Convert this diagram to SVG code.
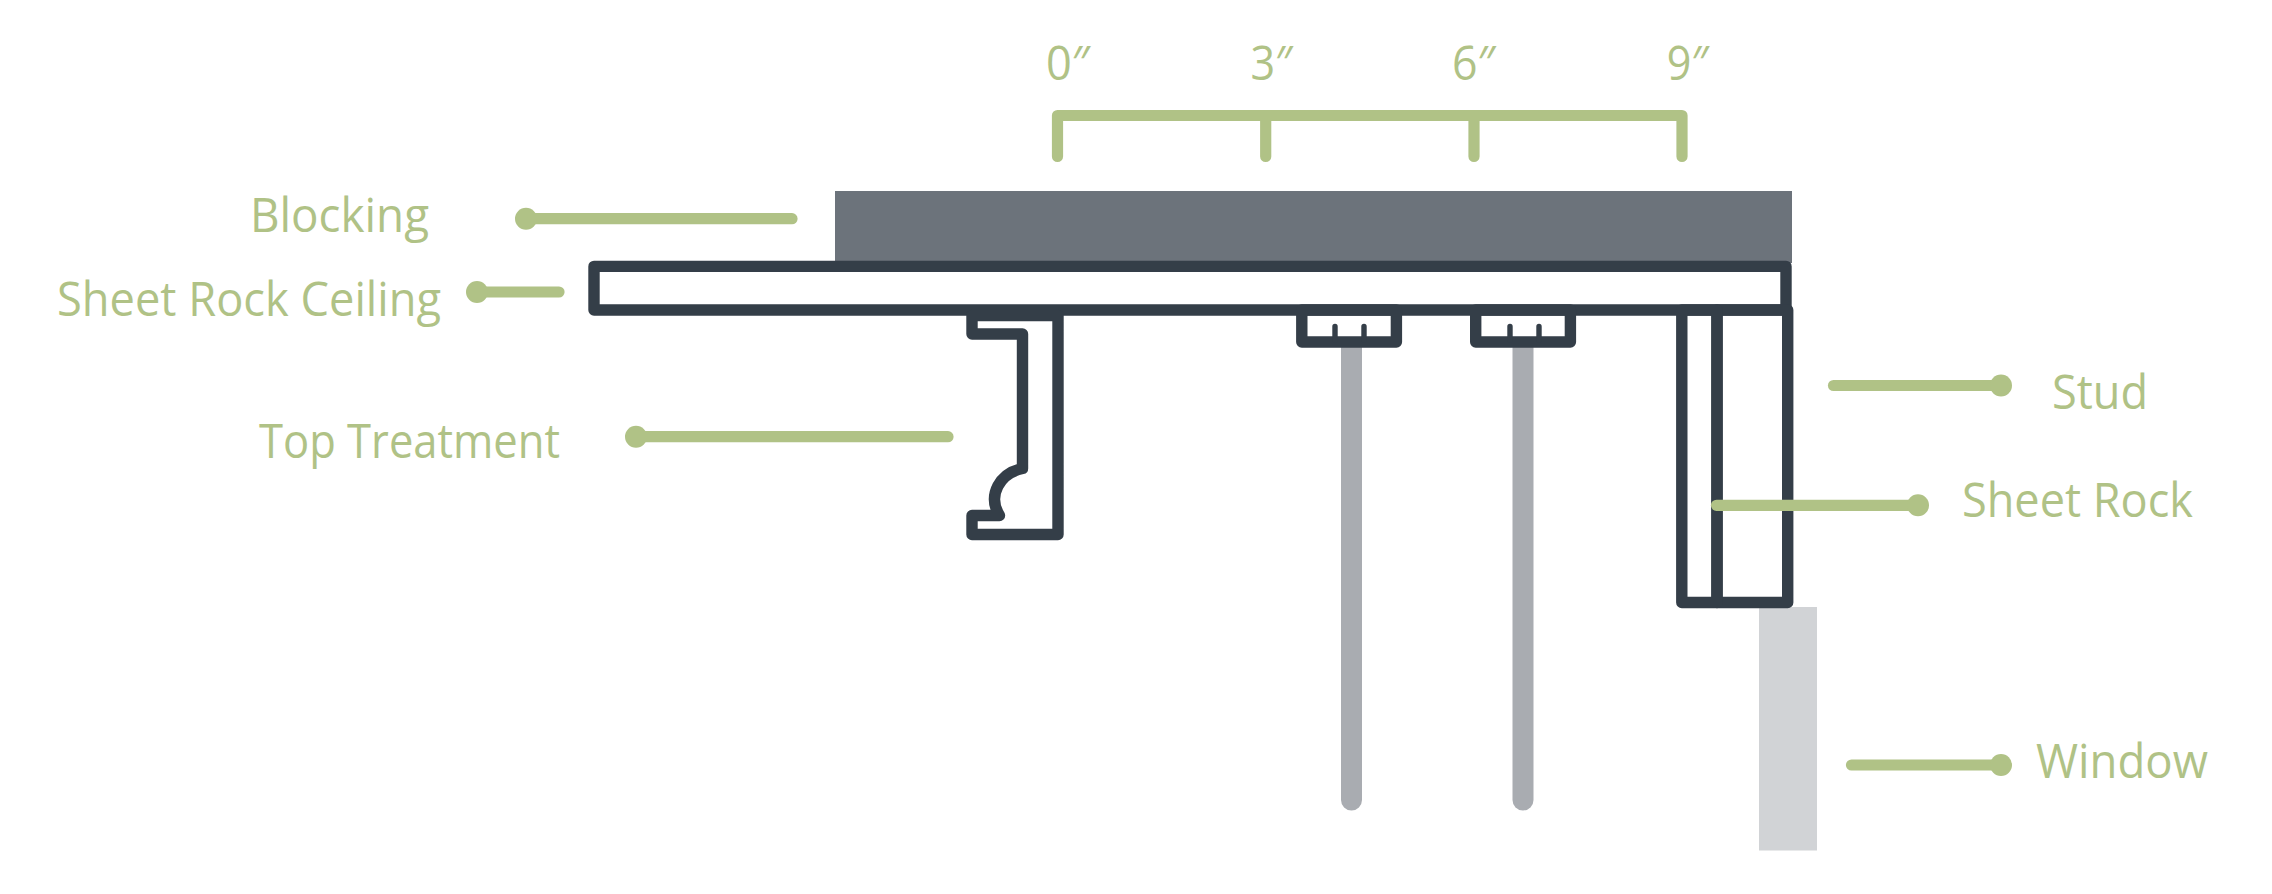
<svg xmlns="http://www.w3.org/2000/svg" width="2272" height="894" viewBox="0 0 2272 894">
<style>
.o{fill:none;stroke:#343e48;stroke-width:11.400;stroke-linejoin:round;stroke-linecap:round}
.t{fill:none;stroke:#343e48;stroke-width:5.400;stroke-linecap:round}
.g{fill:none;stroke:#b0c286;stroke-width:11.200;stroke-linecap:round;stroke-linejoin:round}
.d{fill:#b0c286}
text{font-family:"Open Sans","Noto Sans",sans-serif;font-size:48px;fill:#b0c286;font-weight:400}
</style>
<rect width="2272" height="894" fill="#fff"/>
<g id="blocking"><rect x="835" y="191" width="957" height="72" fill="#6c737b"/></g>
<g id="window"><rect x="1759" y="607" width="58" height="243.500" fill="#d1d3d6"/></g>
<g id="rods" fill="#a9acb1">
<path d="M1341 340H1362V800a10.500 10.500 0 0 1-21 0Z"/>
<path d="M1512.500 340H1533.500V800a10.500 10.500 0 0 1-21 0Z"/>
</g>
<g id="sheet-rock-ceiling"><rect class="o" x="594" y="266.400" width="1192" height="43.600"/></g>
<g id="top-treatment"><path class="o" d="M972 315.500H1058V534.500H972V515.500H999.500C987 495 1000 473 1022.500 468.500V334H972Z"/><rect x="972" y="309" width="86" height="8" fill="#343e48"/></g>
<g id="bracket-1"><rect class="o" x="1301.800" y="310" width="94.600" height="32"/><path class="t" d="M1335 326.500V340M1364 326.500V340"/></g>
<g id="bracket-2"><rect class="o" x="1475.700" y="310" width="94.700" height="32"/><path class="t" d="M1510 326.500V340M1539 326.500V340"/></g>
<g id="stud"><rect class="o" x="1717" y="310" width="70.700" height="292.500"/></g>
<g id="sheet-rock"><rect class="o" x="1681.800" y="310" width="35.200" height="292.500"/></g>
<g id="connectors">
<path class="g" d="M1057.500 156.500V115.500H1682V156.500M1265.700 115.500V156.500M1474 115.500V156.500"/>
<path class="g" d="M526 218.700H792"/><circle class="d" cx="526" cy="218.700" r="11"/>
<path class="g" d="M477 292H559"/><circle class="d" cx="477" cy="292" r="11"/>
<path class="g" d="M636 436.700H948"/><circle class="d" cx="636" cy="436.700" r="11"/>
<path class="g" d="M1833.500 385.500H2001"/><circle class="d" cx="2001" cy="385.500" r="11"/>
<path class="g" d="M1716.500 505.300H1918"/><circle class="d" cx="1918" cy="505.300" r="11"/>
<path class="g" d="M1851.500 765H2001"/><circle class="d" cx="2001" cy="765" r="11"/>
</g>
<g id="labels">
<text x="250" y="231.500" textLength="179" lengthAdjust="spacingAndGlyphs">Blocking</text>
<text x="57" y="316" textLength="384" lengthAdjust="spacingAndGlyphs">Sheet Rock Ceiling</text>
<text x="259" y="457.500" textLength="301" lengthAdjust="spacingAndGlyphs">Top Treatment</text>
<text x="2052" y="409" textLength="96" lengthAdjust="spacingAndGlyphs">Stud</text>
<text x="1962" y="517" textLength="231" lengthAdjust="spacingAndGlyphs">Sheet Rock</text>
<text x="2036" y="778" textLength="172" lengthAdjust="spacingAndGlyphs">Window</text>
<text x="1046" y="80" textLength="44" lengthAdjust="spacingAndGlyphs">0″</text>
<text x="1250.500" y="80" textLength="42" lengthAdjust="spacingAndGlyphs">3″</text>
<text x="1452" y="80" textLength="43.500" lengthAdjust="spacingAndGlyphs">6″</text>
<text x="1666.800" y="80" textLength="42" lengthAdjust="spacingAndGlyphs">9″</text>
</g>
</svg>
